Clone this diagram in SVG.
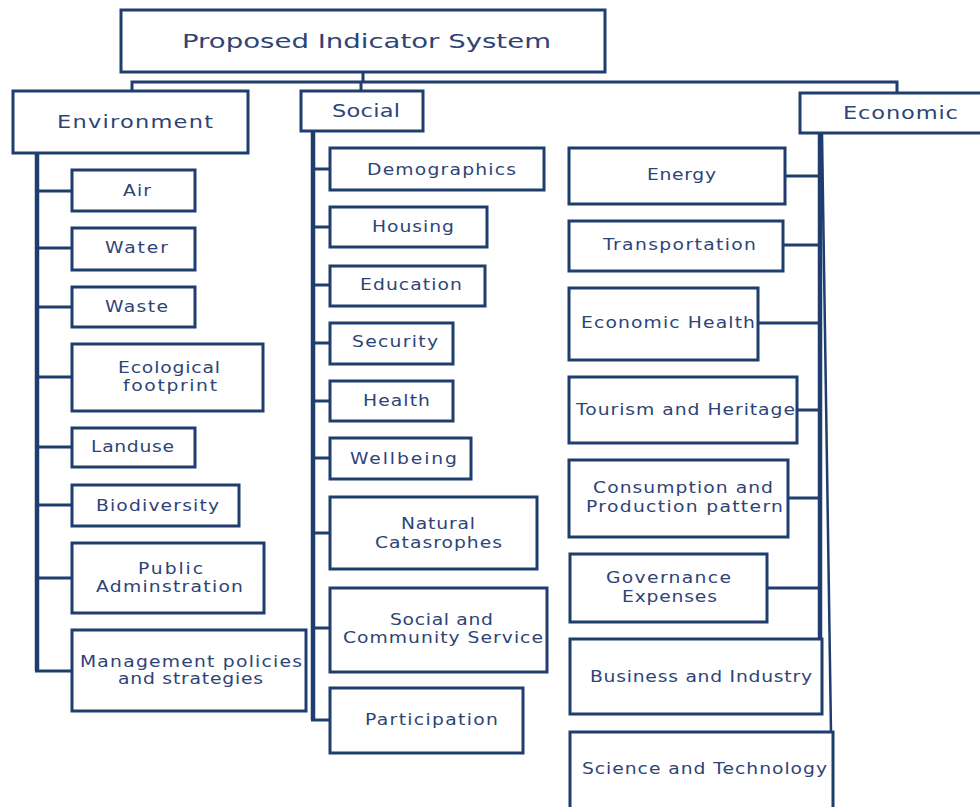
<svg xmlns="http://www.w3.org/2000/svg" width="980" height="807" viewBox="0 0 980 807">
<style>
  .box { fill: #ffffff; stroke: #1f3d6e; stroke-width: 3; }
  .ln { fill: none; stroke: #1f3d6e; stroke-width: 3; }
  .vt { fill: none; stroke: #1f3d6e; stroke-width: 4.5; }
  text { font-family: "DejaVu Sans", Verdana, sans-serif; fill: #2e4476; }
  .t0 { font-size: 20px; }
  .t1 { font-size: 18px; }
  .t2 { font-size: 15px; }
</style>
<rect width="980" height="807" fill="#ffffff"/>

<g id="connectors">
  <polyline class="ln" points="363,72 363,82"/>
  <polyline class="ln" points="132,91 132,82 897,82 897,93"/>
  <polyline class="ln" points="361,82 361,91"/>
  <polyline class="vt" points="37,153 37,671"/>
  <line class="ln" x1="37" y1="191" x2="72" y2="191"/>
  <line class="ln" x1="37" y1="248" x2="72" y2="248"/>
  <line class="ln" x1="37" y1="307" x2="72" y2="307"/>
  <line class="ln" x1="37" y1="377" x2="72" y2="377"/>
  <line class="ln" x1="37" y1="447" x2="72" y2="447"/>
  <line class="ln" x1="37" y1="505" x2="72" y2="505"/>
  <line class="ln" x1="37" y1="578" x2="72" y2="578"/>
  <line class="ln" x1="35" y1="671" x2="72" y2="671"/>
  <polyline class="vt" points="313,131 313,720"/>
  <line class="ln" x1="313" y1="169" x2="330" y2="169"/>
  <line class="ln" x1="313" y1="227" x2="330" y2="227"/>
  <line class="ln" x1="313" y1="285" x2="330" y2="285"/>
  <line class="ln" x1="313" y1="343" x2="330" y2="343"/>
  <line class="ln" x1="313" y1="401" x2="330" y2="401"/>
  <line class="ln" x1="313" y1="458" x2="330" y2="458"/>
  <line class="ln" x1="313" y1="533" x2="330" y2="533"/>
  <line class="ln" x1="313" y1="628" x2="330" y2="628"/>
  <line class="ln" x1="311" y1="720" x2="330" y2="720"/>
  <polyline class="vt" points="820,133 820,639"/>
  <line class="ln" x1="822" y1="133" x2="831" y2="732" style="stroke-width:2.5"/>
  <line class="ln" x1="785" y1="176" x2="820" y2="176"/>
  <line class="ln" x1="783" y1="245" x2="820" y2="245"/>
  <line class="ln" x1="758" y1="323" x2="820" y2="323"/>
  <line class="ln" x1="797" y1="410" x2="820" y2="410"/>
  <line class="ln" x1="788" y1="498" x2="820" y2="498"/>
  <line class="ln" x1="767" y1="588" x2="820" y2="588"/>
</g>

<g id="title">
  <rect class="box" x="121" y="10" width="484" height="62"/>
  <text class="t0" transform="scale(1.25,1)" x="145.6" y="48" textLength="295.2" lengthAdjust="spacingAndGlyphs">Proposed Indicator System</text>
</g>

<g id="environment">
  <rect class="box" x="13" y="91" width="235" height="62"/>
  <text class="t1" transform="scale(1.25,1)" x="45.6" y="128" textLength="124.8" lengthAdjust="spacing">Environment</text>
</g>
<g id="social">
  <rect class="box" x="301" y="91" width="122" height="40"/>
  <text class="t1" transform="scale(1.25,1)" x="265.6" y="117" textLength="54.4" lengthAdjust="spacing">Social</text>
</g>
<g id="economic">
  <rect class="box" x="800" y="93" width="190" height="40"/>
  <text class="t1" transform="scale(1.25,1)" x="674.4" y="119" textLength="92" lengthAdjust="spacing">Economic</text>
</g>

<g id="air">
  <rect class="box" x="72" y="170" width="123" height="41"/>
  <text class="t2" transform="scale(1.25,1)" x="98.4" y="196" textLength="22.4" lengthAdjust="spacing">Air</text>
</g>
<g id="water">
  <rect class="box" x="72" y="228" width="123" height="42"/>
  <text class="t2" transform="scale(1.25,1)" x="84" y="253" textLength="50.4" lengthAdjust="spacing">Water</text>
</g>
<g id="waste">
  <rect class="box" x="72" y="287" width="123" height="40"/>
  <text class="t2" transform="scale(1.25,1)" x="84" y="312" textLength="50.4" lengthAdjust="spacing">Waste</text>
</g>
<g id="ecological">
  <rect class="box" x="72" y="344" width="191" height="67"/>
  <text class="t2" transform="scale(1.25,1)" x="94.4" y="373" textLength="81.6" lengthAdjust="spacing">Ecological</text>
  <text class="t2" transform="scale(1.25,1)" x="98.4" y="391" textLength="75.2" lengthAdjust="spacing">footprint</text>
</g>
<g id="landuse">
  <rect class="box" x="72" y="428" width="123" height="39"/>
  <text class="t2" transform="scale(1.25,1)" x="72.8" y="452" textLength="66.4" lengthAdjust="spacing">Landuse</text>
</g>
<g id="biodiversity">
  <rect class="box" x="72" y="485" width="167" height="41"/>
  <text class="t2" transform="scale(1.25,1)" x="76.8" y="511" textLength="98.4" lengthAdjust="spacing">Biodiversity</text>
</g>
<g id="public">
  <rect class="box" x="72" y="543" width="192" height="70"/>
  <text class="t2" transform="scale(1.25,1)" x="110.4" y="574" textLength="52" lengthAdjust="spacing">Public</text>
  <text class="t2" transform="scale(1.25,1)" x="76.8" y="592" textLength="117.6" lengthAdjust="spacing">Adminstration</text>
</g>
<g id="management">
  <rect class="box" x="72" y="630" width="234" height="81"/>
  <text class="t2" transform="scale(1.25,1)" x="64" y="667" textLength="177.6" lengthAdjust="spacing">Management policies</text>
  <text class="t2" transform="scale(1.25,1)" x="94.4" y="684" textLength="116" lengthAdjust="spacing">and strategies</text>
</g>

<g id="demographics">
  <rect class="box" x="330" y="148" width="214" height="42"/>
  <text class="t2" transform="scale(1.25,1)" x="293.6" y="175" textLength="119.2" lengthAdjust="spacing">Demographics</text>
</g>
<g id="housing">
  <rect class="box" x="330" y="207" width="157" height="40"/>
  <text class="t2" transform="scale(1.25,1)" x="297.6" y="232" textLength="65.6" lengthAdjust="spacing">Housing</text>
</g>
<g id="education">
  <rect class="box" x="330" y="266" width="155" height="40"/>
  <text class="t2" transform="scale(1.25,1)" x="288" y="290" textLength="81.6" lengthAdjust="spacing">Education</text>
</g>
<g id="security">
  <rect class="box" x="330" y="323" width="123" height="41"/>
  <text class="t2" transform="scale(1.25,1)" x="281.6" y="347" textLength="68.8" lengthAdjust="spacing">Security</text>
</g>
<g id="health">
  <rect class="box" x="330" y="381" width="123" height="40"/>
  <text class="t2" transform="scale(1.25,1)" x="290.4" y="406" textLength="53.6" lengthAdjust="spacing">Health</text>
</g>
<g id="wellbeing">
  <rect class="box" x="330" y="438" width="141" height="41"/>
  <text class="t2" transform="scale(1.25,1)" x="280" y="464" textLength="85.6" lengthAdjust="spacing">Wellbeing</text>
</g>
<g id="natural">
  <rect class="box" x="330" y="497" width="207" height="72"/>
  <text class="t2" transform="scale(1.25,1)" x="320.8" y="529" textLength="59.2" lengthAdjust="spacing">Natural</text>
  <text class="t2" transform="scale(1.25,1)" x="300" y="548" textLength="101.6" lengthAdjust="spacing">Catasrophes</text>
</g>
<g id="community">
  <rect class="box" x="330" y="588" width="217" height="84"/>
  <text class="t2" transform="scale(1.25,1)" x="312" y="625" textLength="82.4" lengthAdjust="spacing">Social and</text>
  <text class="t2" transform="scale(1.25,1)" x="274.4" y="643" textLength="160" lengthAdjust="spacing">Community Service</text>
</g>
<g id="participation">
  <rect class="box" x="330" y="688" width="193" height="65"/>
  <text class="t2" transform="scale(1.25,1)" x="292" y="725" textLength="106.4" lengthAdjust="spacing">Participation</text>
</g>

<g id="energy">
  <rect class="box" x="569" y="148" width="216" height="56"/>
  <text class="t2" transform="scale(1.25,1)" x="517.6" y="180" textLength="55.2" lengthAdjust="spacing">Energy</text>
</g>
<g id="transportation">
  <rect class="box" x="569" y="221" width="214" height="50"/>
  <text class="t2" transform="scale(1.25,1)" x="482.4" y="250" textLength="122.4" lengthAdjust="spacing">Transportation</text>
</g>
<g id="economic-health">
  <rect class="box" x="569" y="288" width="189" height="72"/>
  <text class="t2" transform="scale(1.25,1)" x="464.8" y="328" textLength="139.2" lengthAdjust="spacing">Economic Health</text>
</g>
<g id="tourism">
  <rect class="box" x="569" y="377" width="228" height="66"/>
  <text class="t2" transform="scale(1.25,1)" x="460.8" y="415" textLength="175.2" lengthAdjust="spacing">Tourism and Heritage</text>
</g>
<g id="consumption">
  <rect class="box" x="569" y="460" width="219" height="77"/>
  <text class="t2" transform="scale(1.25,1)" x="474.4" y="493" textLength="144" lengthAdjust="spacing">Consumption and</text>
  <text class="t2" transform="scale(1.25,1)" x="468.8" y="512" textLength="157.6" lengthAdjust="spacing">Production pattern</text>
</g>
<g id="governance">
  <rect class="box" x="570" y="554" width="197" height="68"/>
  <text class="t2" transform="scale(1.25,1)" x="484.8" y="583" textLength="100" lengthAdjust="spacing">Governance</text>
  <text class="t2" transform="scale(1.25,1)" x="497.6" y="602" textLength="76" lengthAdjust="spacing">Expenses</text>
</g>
<g id="business">
  <rect class="box" x="570" y="639" width="252" height="75"/>
  <text class="t2" transform="scale(1.25,1)" x="472" y="682" textLength="177.6" lengthAdjust="spacing">Business and Industry</text>
</g>
<g id="science">
  <rect class="box" x="570" y="732" width="263" height="85"/>
  <text class="t2" transform="scale(1.25,1)" x="465.6" y="774" textLength="196" lengthAdjust="spacing">Science and Technology</text>
</g>
</svg>
